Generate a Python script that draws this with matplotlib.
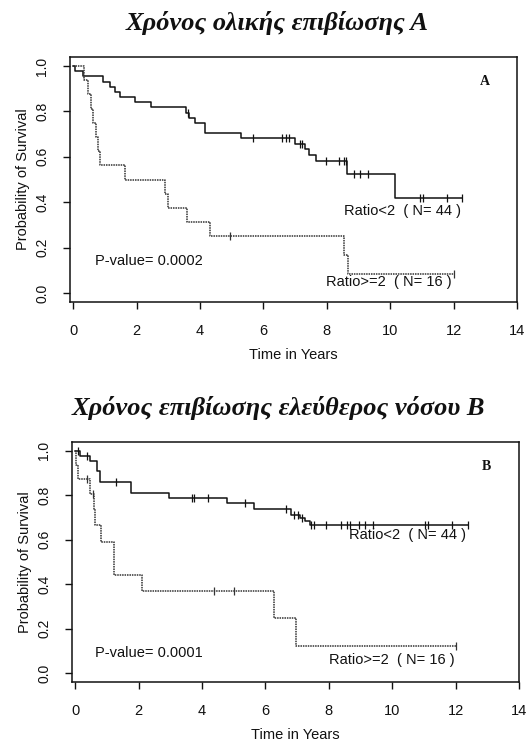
import numpy as np
import matplotlib
matplotlib.use("Agg")
import matplotlib.pyplot as plt

# ---------------- data ----------------
titles = ["Χρόνος ολικής επιβίωσης Α", "Χρόνος επιβίωσης ελεύθερος νόσου Β"]
panel_letters = ["A", "B"]
p_values = ["P-value= 0.0002", "P-value= 0.0001"]
label_lo = "Ratio<2  ( N= 44 )"
label_hi = "Ratio>=2  ( N= 16 )"

# Panel A, Ratio<2 (solid)
times_A_lo = [0.05, 0.30, 0.95, 1.16, 1.32, 1.48, 1.95, 2.47, 3.55, 3.66, 3.85, 4.15,
              5.30, 7.00, 7.30, 7.45, 7.65, 8.65, 10.15]
surv_A_lo = [0.977, 0.955, 0.932, 0.909, 0.886, 0.864, 0.841, 0.818, 0.795, 0.773, 0.750,
             0.705, 0.682, 0.658, 0.633, 0.609, 0.581, 0.524, 0.419]
cens_A_lo = [3.62, 5.68, 6.60, 6.70, 6.80, 7.15, 7.22, 7.97, 8.40, 8.55, 8.62, 8.85, 9.05,
             9.30, 10.95, 11.02, 11.80, 12.25]

# Panel A, Ratio>=2 (dotted)
times_A_hi = [0.33, 0.48, 0.55, 0.64, 0.72, 0.77, 0.84, 1.62, 2.90, 3.00, 3.60, 4.32, 8.55, 8.68]
surv_A_hi = [0.9375, 0.875, 0.8125, 0.75, 0.6875, 0.625, 0.5625, 0.5, 0.4375, 0.375,
             0.3125, 0.25, 0.1667, 0.0833]
cens_A_hi = [4.95, 12.0]

# Panel B, Ratio<2 (solid)
times_B_lo = [0.16, 0.48, 0.69, 0.78, 1.76, 2.95, 4.78, 5.65, 6.82, 7.08, 7.25, 7.40]
surv_B_lo = [0.977, 0.955, 0.910, 0.858, 0.810, 0.789, 0.764, 0.737, 0.712, 0.697, 0.685, 0.668]
cens_B_lo = [0.08, 0.37, 1.30, 3.68, 3.76, 4.18, 5.35, 6.65, 6.90, 7.03, 7.15, 7.45, 7.52,
             7.92, 8.40, 8.58, 8.66, 8.95, 9.15, 9.40, 11.05, 11.12, 11.90, 12.38]

# Panel B, Ratio>=2 (dotted)
times_B_hi = [0.04, 0.09, 0.48, 0.58, 0.62, 0.80, 1.24, 2.10, 6.27, 6.98]
surv_B_hi = [0.9375, 0.875, 0.808, 0.737, 0.665, 0.59, 0.443, 0.369, 0.246, 0.123]
cens_B_hi = [0.37, 0.55, 4.37, 5.0, 12.0]

x_ticks = [0, 2, 4, 6, 8, 10, 12, 14]
y_ticks = [0.0, 0.2, 0.4, 0.6, 0.8, 1.0]

panels = [
    dict(lo=(times_A_lo, surv_A_lo, cens_A_lo), hi=(times_A_hi, surv_A_hi, cens_A_hi)),
    dict(lo=(times_B_lo, surv_B_lo, cens_B_lo), hi=(times_B_hi, surv_B_hi, cens_B_hi)),
]

# ---------------- layout ----------------
W, H = 528, 744
fig = plt.figure(figsize=(W / 100, H / 100), dpi=100)
fig.patch.set_facecolor("white")

sans = ["Liberation Sans", "DejaVu Sans"]
serif = ["Liberation Serif", "DejaVu Serif"]

# axes boxes in pixels: left, top, right, bottom
boxes = [(70, 57, 517, 302), (72, 442, 519, 682)]
title_y = [23, 408]
title_x = [277, 278]
# text positions (data coords)
letter_pos = [(13.0, 0.93), (12.98, 0.93)]
lo_pos = [(8.55, 0.36), (8.63, 0.62)]
hi_pos = [(7.98, 0.05), (8.0, 0.06)]
p_pos = [(0.69, 0.14), (0.64, 0.092)]

txt_size = 10.5


def km_curve(times, surv, cens):
    t_end = max(cens + times)
    xs = np.r_[0.0, times, t_end]
    ys = np.r_[1.0, surv, surv[-1]]
    # survival level at each censor time (step lookup)
    idx = np.searchsorted(np.asarray(times), np.asarray(cens), side="right")
    levels = np.r_[1.0, surv][idx]
    return xs, ys, levels


for i, pan in enumerate(panels):
    l, t, r, b = boxes[i]
    ax = fig.add_axes([l / W, 1 - b / H, (r - l) / W, (b - t) / H])
    ax.set_xlim(-0.1, 14.0)
    ax.set_ylim(-0.04, 1.04)

    # solid curve
    xs, ys, lv = km_curve(*pan["lo"])
    ax.step(xs, ys, where="post", color="#111111", lw=1.1)
    ax.plot(pan["lo"][2], lv, ls="none", marker="|", ms=6, mew=0.9, color="#111111")

    # dotted curve
    xs, ys, lv = km_curve(*pan["hi"])
    ax.step(xs, ys, where="post", color="#333333", lw=1.1, linestyle=(0, (1.0, 0.6)))
    ax.plot(pan["hi"][2], lv, ls="none", marker="|", ms=6, mew=0.9, color="#333333")

    ax.set_xticks(x_ticks)
    ax.set_yticks(y_ticks)
    ax.set_xticklabels([str(v) for v in x_ticks], fontsize=10.5, family=sans)
    ax.set_yticklabels([f"{v:.1f}" for v in y_ticks], fontsize=10, family=sans,
                       rotation=90, va="center")
    ax.tick_params(axis="x", direction="out", length=5, width=1, pad=11, colors="#111111")
    ax.tick_params(axis="y", direction="out", length=5, width=1, pad=10, colors="#111111")
    for sp in ax.spines.values():
        sp.set_linewidth(1.1)
        sp.set_color("#111111")

    ax.set_xlabel("Time in Years", fontsize=10.5, family=sans, labelpad=7, color="#111111")
    ax.set_ylabel("Probability of Survival", fontsize=10.5, family=sans, labelpad=4,
                  color="#111111")

    ax.text(*letter_pos[i], panel_letters[i], family=serif, fontsize=10, fontweight="bold",
            ha="center", va="center", color="#111111")
    ax.text(*lo_pos[i], label_lo, family=sans, fontsize=txt_size, ha="left", va="center",
            color="#111111")
    ax.text(*hi_pos[i], label_hi, family=sans, fontsize=txt_size, ha="left", va="center",
            color="#111111")
    ax.text(*p_pos[i], p_values[i], family=sans, fontsize=txt_size, ha="left", va="center",
            color="#111111")

    fig.text(title_x[i] / W, 1 - title_y[i] / H, titles[i], family=serif, fontsize=19,
             fontweight="bold", fontstyle="italic", ha="center", va="center", color="#111111")

fig.savefig("out.png", dpi=100, facecolor="white")
